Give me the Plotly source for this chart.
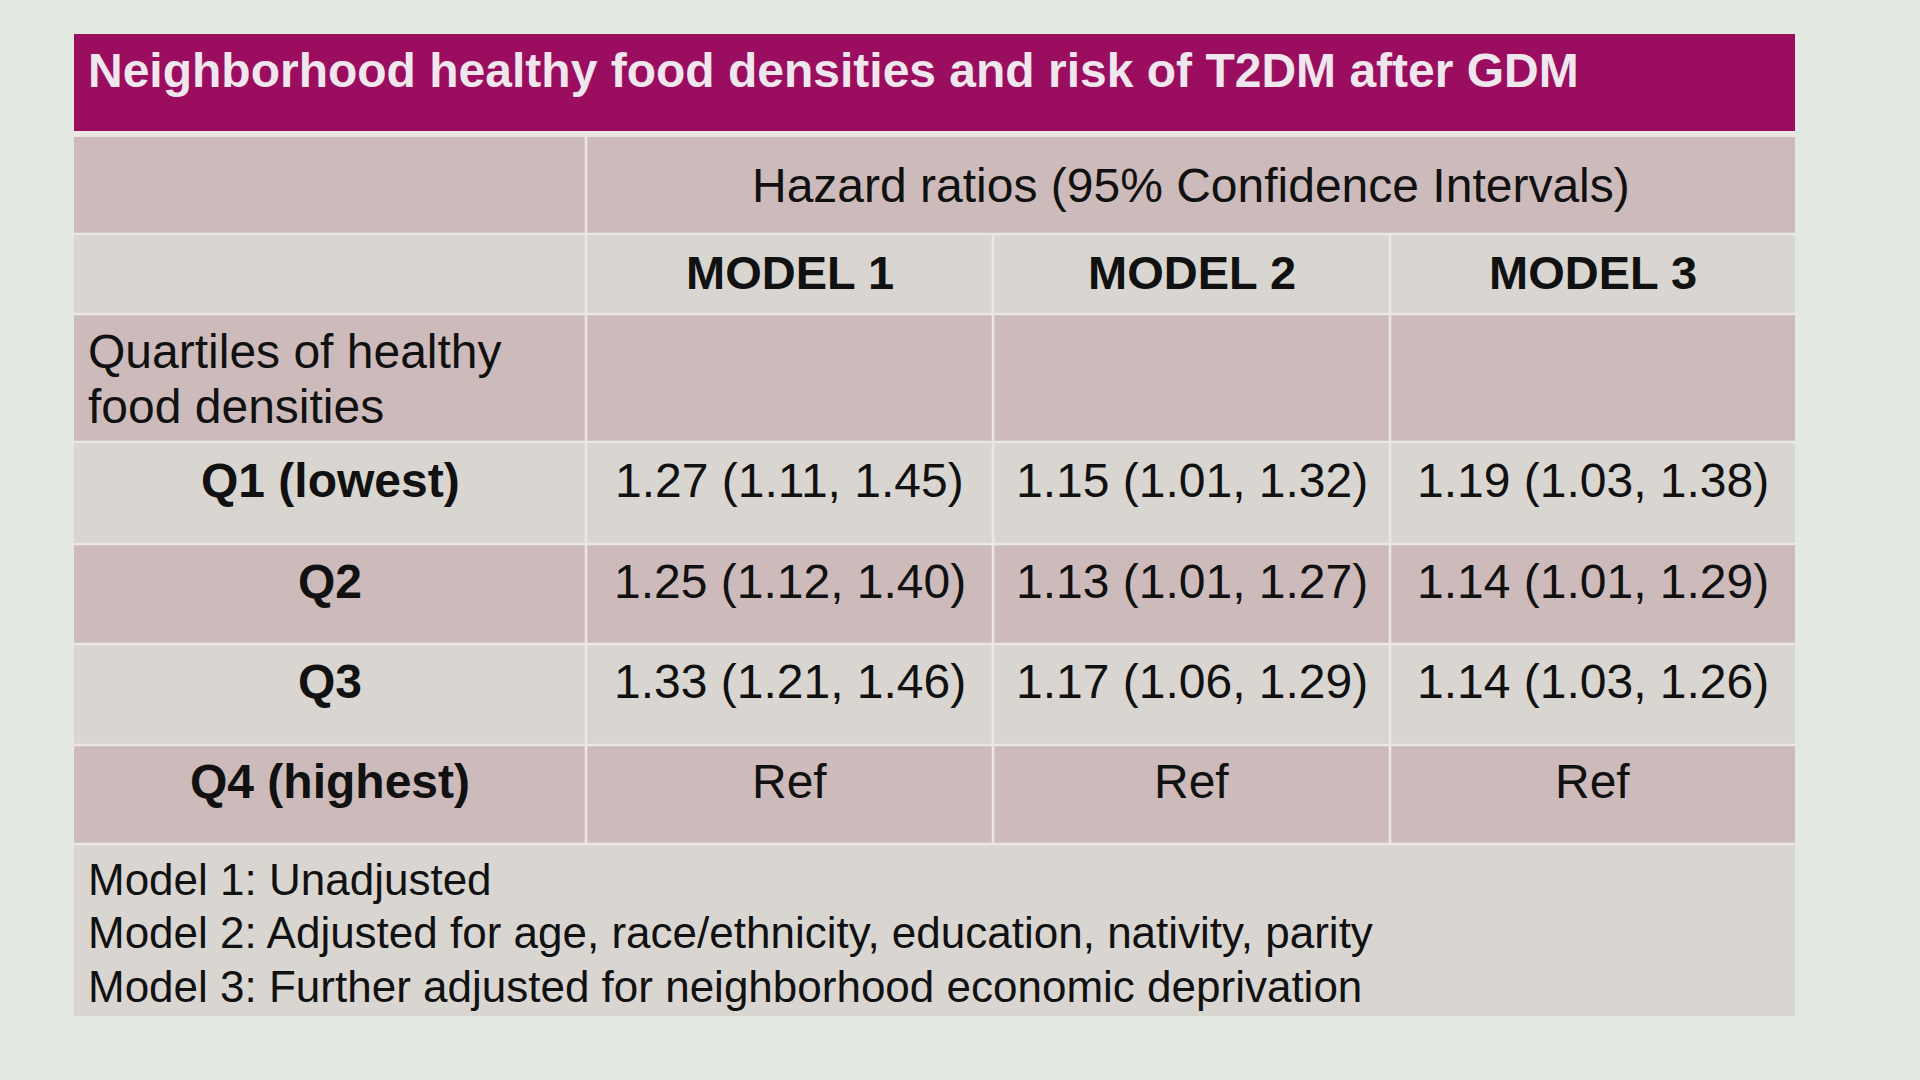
import plotly.graph_objects as go

title = "Neighborhood healthy food densities and risk of T2DM after GDM"
header = "Hazard ratios (95% Confidence Intervals)"
models = ["MODEL 1", "MODEL 2", "MODEL 3"]
row_title = ["Quartiles of healthy", "food densities"]
quartiles = ["Q1 (lowest)", "Q2", "Q3", "Q4 (highest)"]

# hazard ratio with 95% CI per model, Q4 is the reference group (None)
hr_m1 = [1.27, 1.25, 1.33, None]
lo_m1 = [1.11, 1.12, 1.21, None]
hi_m1 = [1.45, 1.40, 1.46, None]

hr_m2 = [1.15, 1.13, 1.17, None]
lo_m2 = [1.01, 1.01, 1.06, None]
hi_m2 = [1.32, 1.27, 1.29, None]

hr_m3 = [1.19, 1.14, 1.14, None]
lo_m3 = [1.03, 1.01, 1.03, None]
hi_m3 = [1.38, 1.29, 1.26, None]

notes = [
    "Model 1: Unadjusted",
    "Model 2: Adjusted for age, race/ethnicity, education, nativity, parity",
    "Model 3: Further adjusted for neighborhood economic deprivation",
]

# layout (pixels)
W, H = 1920, 1080
bg = "#e3e8e2"
bar = "#9b0d5e"
pink = "#cdbbbb"
grey = "#d9d6d2"
line = "#ebe7e3"
font = "Liberation Sans, Arial, sans-serif"

col_x = [74, 586, 993, 1390, 1795]
row_y = [137, 234, 314, 442, 544, 644, 745, 844, 1016]
g = 1.3
pad_l = 86
lift = 13  # body rows have their text sitting above the middle


def fmt(h, l, u):
    if h is None:
        return "Ref"
    return f"{h:.2f} ({l:.2f}, {u:.2f})"


shapes = []
ann = []


def rect(x0, x1, y0, y1, color):
    shapes.append(dict(type="rect", xref="x", yref="y", x0=x0, x1=x1, y0=y0, y1=y1,
                       fillcolor=color, line=dict(width=0), layer="below"))


def text(x, y, s, size, bold=False, anchor="center", color="#111111"):
    ann.append(dict(x=x, y=y, xref="x", yref="y", text=f"<b>{s}</b>" if bold else s,
                    showarrow=False, xanchor=anchor, yanchor="middle",
                    font=dict(family=font, size=size, color=color)))


# title bar + table backdrop
rect(col_x[0], col_x[-1], 34, 131, bar)
rect(col_x[0], col_x[-1], 131, row_y[-1], line)
text(pad_l, 70, title, 48, bold=True, anchor="left", color="#f0e6ee")

n_rows = len(row_y) - 1
for j in range(n_rows):
    y0 = row_y[j] + (0 if j == 0 else g)
    y1 = row_y[j + 1] - (0 if j == n_rows - 1 else g)
    color = pink if j % 2 == 0 else grey
    if j == n_rows - 1:
        rect(col_x[0], col_x[-1], y0, y1, color)
        continue
    if j == 0:
        spans = [(0, 1), (1, 4)]
    else:
        spans = [(0, 1), (1, 2), (2, 3), (3, 4)]
    for a, b in spans:
        x0 = col_x[a] + (0 if a == 0 else g)
        x1 = col_x[b] - (0 if b == 4 else g)
        rect(x0, x1, y0, y1, color)


def mid(i):
    return (row_y[i] + row_y[i + 1]) / 2


def cmid(i):
    return (col_x[i] + col_x[i + 1]) / 2


text((col_x[1] + col_x[-1]) / 2, mid(0), header, 48)
for k, m in enumerate(models):
    text(cmid(k + 1), mid(1) - 2, m, 47, bold=True)

text(pad_l, 351, row_title[0], 48, anchor="left")
text(pad_l, 406, row_title[1], 48, anchor="left")

cols = [(hr_m1, lo_m1, hi_m1), (hr_m2, lo_m2, hi_m2), (hr_m3, lo_m3, hi_m3)]
for r, q in enumerate(quartiles):
    yc = mid(r + 3) - lift
    text(cmid(0), yc, q, 48, bold=True)
    for k, (h, l, u) in enumerate(cols):
        text(cmid(k + 1), yc, fmt(h[r], l[r], u[r]), 48)

for i, n in enumerate(notes):
    text(pad_l, 879 + i * 53.5, n, 44, anchor="left")

fig = go.Figure()
fig.update_layout(
    width=W, height=H,
    margin=dict(l=0, r=0, t=0, b=0),
    paper_bgcolor=bg, plot_bgcolor=bg,
    xaxis=dict(range=[0, W], visible=False, fixedrange=True),
    yaxis=dict(range=[H, 0], visible=False, fixedrange=True),
    shapes=shapes, annotations=ann,
    showlegend=False,
)
fig.write_html("out.html", config={"displayModeBar": False},
               post_script="document.body.style.margin='0';")
